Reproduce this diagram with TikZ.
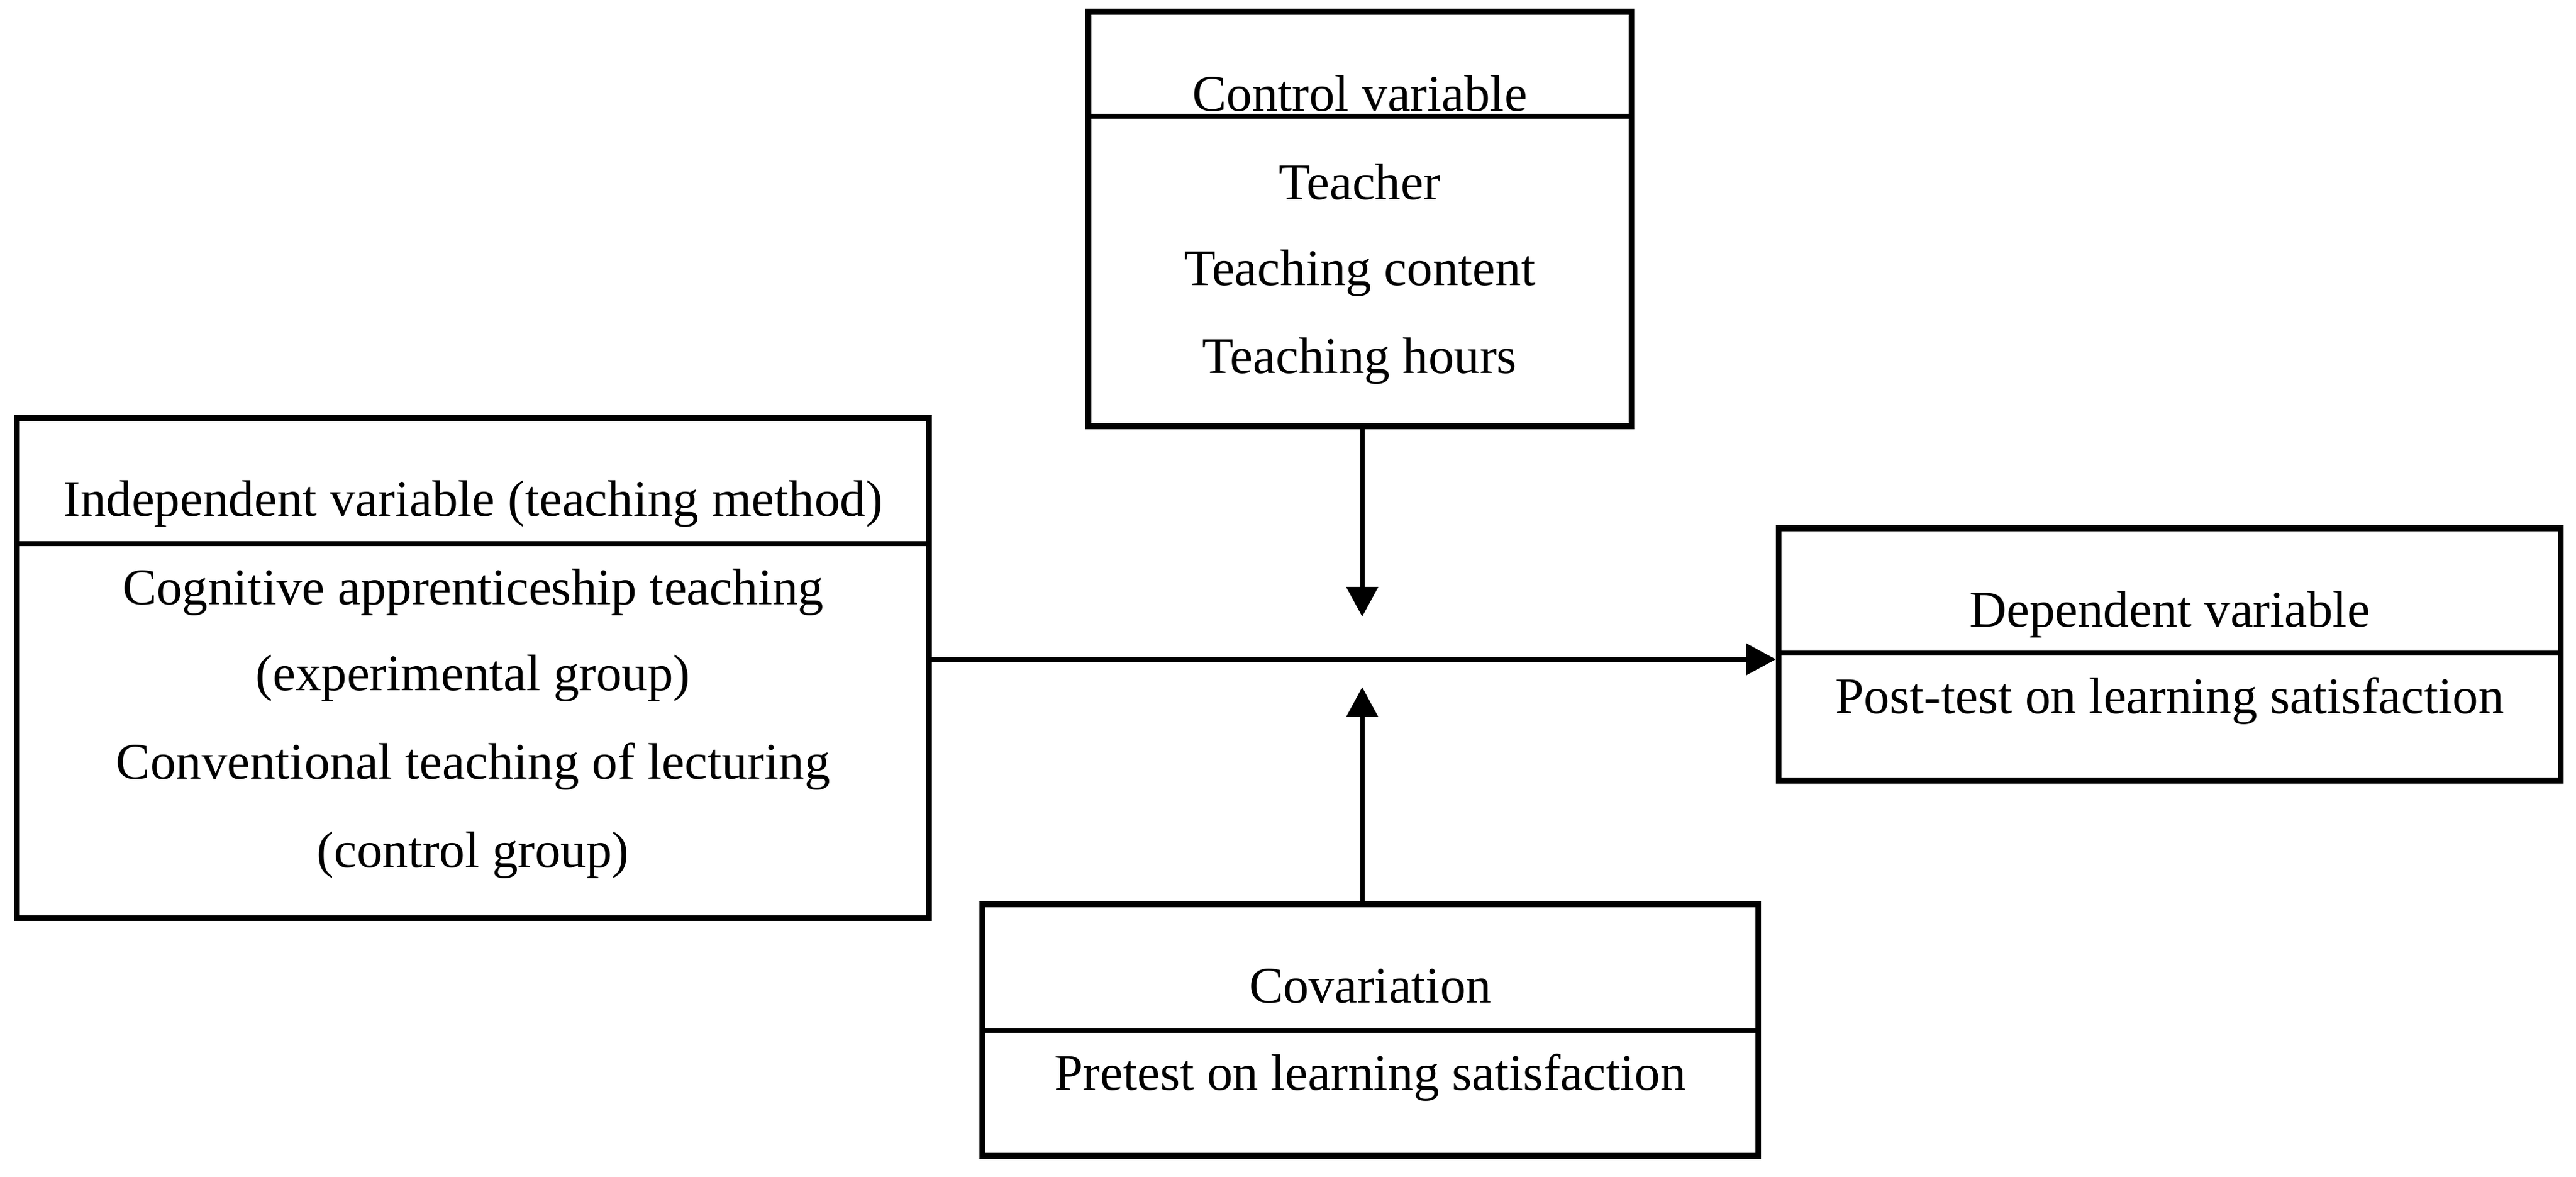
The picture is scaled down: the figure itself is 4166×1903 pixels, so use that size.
\documentclass[tikz,border=0pt]{standalone}
\usepackage{fontspec}
\setmainfont{Liberation Serif}
\usetikzlibrary{arrows.meta}

\begin{document}
\begin{tikzpicture}
[darkArrow/.style={-{Triangle[length=0.48cm,width=0.5cm]},line width=2pt},%
  boxDecorate/.style={shape=rectangle,draw,line width=2.7pt,inner sep=0pt},%
  dividerLine/.style={line width=2.3pt},%
  boxText/.style={anchor=base,inner sep=0pt,font=\fontsize{23.6}{28}\selectfont},%
  x=0.01cm,y=-0.01cm]
\useasboundingbox (0,0) rectangle (4166,1903);
%% boxes
\foreach \nodename/\x/\y/\w/\h in {ctrl/2199/354/8.78cm/6.70cm,
  indep/765/1080/14.74cm/8.08cm, dep/3509/1058/12.64cm/4.08cm,
  cov/2216/1665.5/12.54cm/4.07cm}
{
  \node (\nodename) at (\x,\y) [boxDecorate,minimum width=\w,minimum height=\h] {};
}
%% dividers between head and body
\foreach \nodename/\y in {ctrl/188, indep/879, dep/1056, cov/1666}
{
  \draw[dividerLine] (\nodename.west |- 0,\y) -- (\nodename.east |- 0,\y);
}
%% texts
\foreach \nodename/\x/\y/\words in {
  ctrlHead/2199/180/Control variable, ctrlA/2199/322/Teacher,
  ctrlB/2199/461/Teaching content, ctrlC/2199/603/Teaching hours,
  indepHead/765/834/Independent variable (teaching method),
  indepA/765/977/Cognitive apprenticeship teaching,
  indepB/765/1116/(experimental group),
  indepC/765/1259/Conventional teaching of lecturing,
  indepD/765/1402/(control group),
  depHead/3509/1013/Dependent variable,
  depA/3509/1153/Post-test on learning satisfaction,
  covHead/2216/1621/Covariation,
  covA/2216/1762/Pretest on learning satisfaction}
{
  \node (\nodename) at (\x,\y) [boxText] {\words};
}
%% arrows
\coordinate (joinTop) at (2203,997);
\coordinate (joinBottom) at (2203,1111);
\draw[darkArrow] (joinTop |- ctrl.south) -- (joinTop);
\draw[darkArrow] (joinBottom |- cov.north) -- (joinBottom);
\draw[darkArrow] (indep.east |- 0,1066) -- (dep.west |- 0,1066);
\end{tikzpicture}
\end{document}
